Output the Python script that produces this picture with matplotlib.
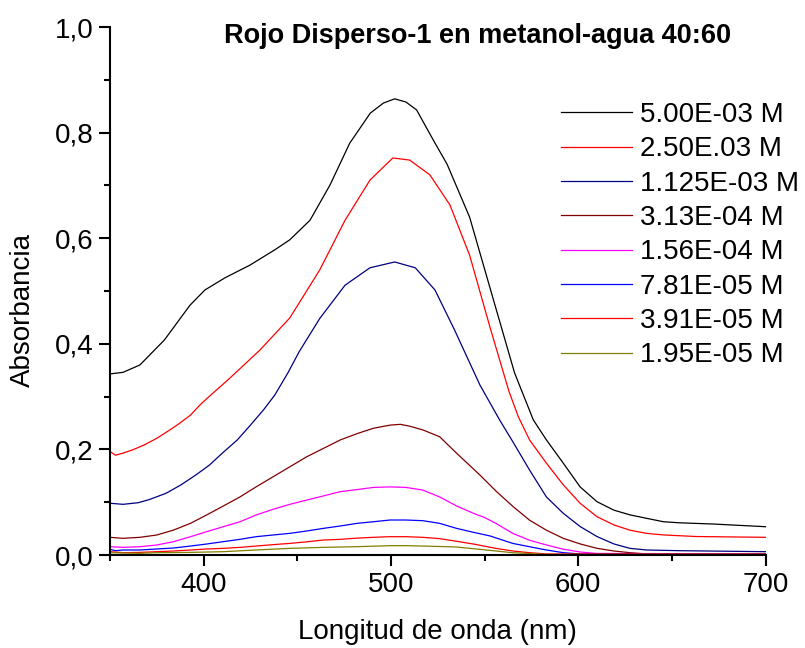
import matplotlib
matplotlib.use("Agg")
import matplotlib.pyplot as plt
from matplotlib.ticker import MultipleLocator, FuncFormatter

plt.rcParams["font.family"] = ["Liberation Sans", "DejaVu Sans"]

# --- spectra (wavelength nm, absorbance) ---
wl_50 = [350, 357, 366, 379, 392.7, 400.7, 411.4, 424.7, 438, 446, 456.8, 467.5,
         478, 489, 496, 502, 508, 513.7, 522.6, 530, 542, 555, 566, 576, 583,
         592, 601, 610, 619, 627.6, 636.5, 645.5, 654, 672, 700]
abs_50 = [0.343, 0.346, 0.360, 0.407, 0.473, 0.502, 0.525, 0.549, 0.578, 0.597, 0.634, 0.701,
          0.780, 0.837, 0.856, 0.864, 0.858, 0.843, 0.786, 0.740, 0.640, 0.480, 0.345, 0.256, 0.218,
          0.174, 0.129, 0.101, 0.085, 0.076, 0.0695, 0.063, 0.061, 0.0587, 0.0536]

wl_25 = [350, 353, 357, 362, 368, 375, 382, 387, 393, 398, 401, 414, 430, 446, 462,
         475.5, 488.8, 501, 510, 520.8, 531.5, 542, 553, 563, 568, 574, 583, 592,
         601, 610, 619, 627.6, 636.5, 645.5, 663, 700]
abs_25 = [0.196, 0.189, 0.193, 0.199, 0.208, 0.221, 0.237, 0.249, 0.265, 0.284, 0.294, 0.335,
          0.388, 0.449, 0.540, 0.634, 0.710, 0.752, 0.748, 0.720, 0.663, 0.568, 0.430, 0.310,
          0.262, 0.218, 0.174, 0.133, 0.098, 0.0726, 0.057, 0.047, 0.041, 0.038, 0.035, 0.0335]

wl_11 = [350, 357, 365, 371, 380, 388, 396, 403, 410, 418, 425, 432, 438, 445, 451, 462,
         475.5, 488.8, 502, 513, 523.5, 534, 547.5, 558, 565, 574, 583, 592, 601,
         610, 619, 627.6, 636.5, 654, 700]
abs_11 = [0.098, 0.096, 0.099, 0.105, 0.117, 0.133, 0.152, 0.170, 0.193, 0.218, 0.246, 0.275,
          0.303, 0.345, 0.385, 0.448, 0.511, 0.544, 0.555, 0.544, 0.502, 0.426, 0.322, 0.256,
          0.215, 0.161, 0.110, 0.079, 0.054, 0.035, 0.021, 0.0126, 0.0095, 0.0082, 0.0063]

wl_313 = [350, 357, 366, 375, 384, 393, 401.6, 410.5, 419.4, 428, 437, 446, 455, 464,
          473, 482, 490.6, 499.5, 505, 510, 517, 526, 535, 547.5, 556.4, 565.3, 574,
          583, 592, 601, 610, 619, 627.6, 636.5, 654, 700]
abs_313 = [0.0335, 0.0316, 0.0335, 0.0379, 0.0473, 0.060, 0.0758, 0.0928, 0.110, 0.129, 0.148,
           0.167, 0.186, 0.202, 0.218, 0.230, 0.240, 0.246, 0.2475, 0.244, 0.237, 0.224, 0.193,
           0.1515, 0.120, 0.0915, 0.066, 0.047, 0.0316, 0.021, 0.0127, 0.0076, 0.0044, 0.002,
           0.001, 0.001]

wl_156 = [350, 357, 366, 375, 384, 393, 401.6, 410.5, 419.4, 428, 437, 446, 455, 464,
          473, 482, 490.6, 499.5, 508, 517, 526, 535, 544, 550, 556, 565, 574, 583,
          592, 601, 610, 700]
abs_156 = [0.0157, 0.0146, 0.0157, 0.019, 0.0253, 0.0347, 0.0442, 0.0536, 0.063, 0.0758, 0.0865,
           0.096, 0.104, 0.112, 0.120, 0.124, 0.128, 0.129, 0.128, 0.123, 0.110, 0.093, 0.079,
           0.071, 0.060, 0.041, 0.028, 0.019, 0.011, 0.0057, 0.003, 0.002]

wl_78 = [350, 353, 357, 366, 375, 384, 393, 401.6, 410.5, 419.4, 428, 437, 446, 455,
         464, 473, 482, 490.6, 499.5, 508, 517, 526, 535, 544, 553, 565, 574, 583,
         592, 601, 700]
abs_78 = [0.0107, 0.0082, 0.0095, 0.0095, 0.0114, 0.0133, 0.017, 0.0208, 0.0253, 0.0297, 0.0347,
          0.0379, 0.041, 0.0455, 0.0505, 0.055, 0.060, 0.063, 0.0663, 0.0663, 0.065, 0.060, 0.0505,
          0.043, 0.036, 0.022, 0.0157, 0.0095, 0.0044, 0.002, 0.002]

wl_39 = [350, 357, 366, 375, 384, 393, 401.6, 410.5, 419.4, 428, 437, 446, 455, 464,
         473, 482, 490.6, 499.5, 508, 517, 526, 535, 544, 556, 565, 574, 583, 700]
abs_39 = [0.0063, 0.0044, 0.005, 0.0063, 0.0076, 0.0095, 0.0114, 0.0126, 0.0145, 0.017, 0.0196,
          0.022, 0.025, 0.0284, 0.0297, 0.032, 0.0335, 0.0347, 0.0347, 0.0335, 0.031, 0.026,
          0.0208, 0.0126, 0.0076, 0.0044, 0.002, 0.002]

wl_195 = [350, 366, 375, 393, 410.5, 428, 446, 464, 482, 499.5, 508, 517, 535, 547.5,
          565, 583, 700]
abs_195 = [0.0044, 0.0032, 0.0044, 0.005, 0.0063, 0.0095, 0.0126, 0.0145, 0.0158, 0.0177,
           0.0177, 0.017, 0.0152, 0.0107, 0.0044, 0.001, 0.001]

labels = ["5.00E-03 M", "2.50E.03 M", "1.125E-03 M", "3.13E-04 M",
          "1.56E-04 M", "7.81E-05 M", "3.91E-05 M", "1.95E-05 M"]
colors = ["#000000", "#FF0000", "#000080", "#800000",
          "#FF00FF", "#0000FF", "#FF0000", "#808000"]

series = [(wl_50, abs_50), (wl_25, abs_25), (wl_11, abs_11), (wl_313, abs_313),
          (wl_156, abs_156), (wl_78, abs_78), (wl_39, abs_39), (wl_195, abs_195)]

fig = plt.figure(figsize=(8.05, 6.48), dpi=100)
ax = fig.add_axes([0.1366, 0.1435, 0.8144, 0.8148])

for (x, y), lab, c in zip(series, labels, colors):
    ax.plot(x, y, color=c, lw=0.9, label=lab)

ax.set_xlim(350, 700)
ax.set_ylim(0, 1.0)
ax.spines["top"].set_visible(False)
ax.spines["right"].set_visible(False)
ax.spines["left"].set_linewidth(1.5)
ax.spines["bottom"].set_linewidth(1.5)

ax.xaxis.set_major_locator(MultipleLocator(100))
ax.xaxis.set_minor_locator(MultipleLocator(50))
ax.yaxis.set_major_locator(MultipleLocator(0.2))
ax.yaxis.set_minor_locator(MultipleLocator(0.1))
ax.yaxis.set_major_formatter(FuncFormatter(lambda v, p: f"{v:.1f}".replace(".", ",")))
ax.tick_params(which="major", length=8, width=1.5, labelsize=20, pad=4)
ax.tick_params(which="minor", length=4.5, width=1.5)

ax.set_xlabel("Longitud de onda (nm)", fontsize=20)
ax.set_ylabel("Absorbancia", fontsize=20)
ax.xaxis.set_label_coords(0.5, -0.146)
ax.xaxis.label.set_va("center")
ax.yaxis.set_label_coords(-0.133, 0.464)
ax.yaxis.label.set_va("center")

fig.text(478 / 805, 1 - 36 / 648, "Rojo Disperso-1 en metanol-agua 40:60",
         fontsize=19.5, fontweight="bold", ha="center", va="center")

ax.legend(loc="upper left", bbox_to_anchor=(561 / 805, 1 - 102 / 648),
          bbox_transform=fig.transFigure, frameon=False, fontsize=20,
          handlelength=2.55, handletextpad=0.3, labelspacing=0.30,
          borderaxespad=0, borderpad=0)

fig.savefig("out.png", dpi=100)
